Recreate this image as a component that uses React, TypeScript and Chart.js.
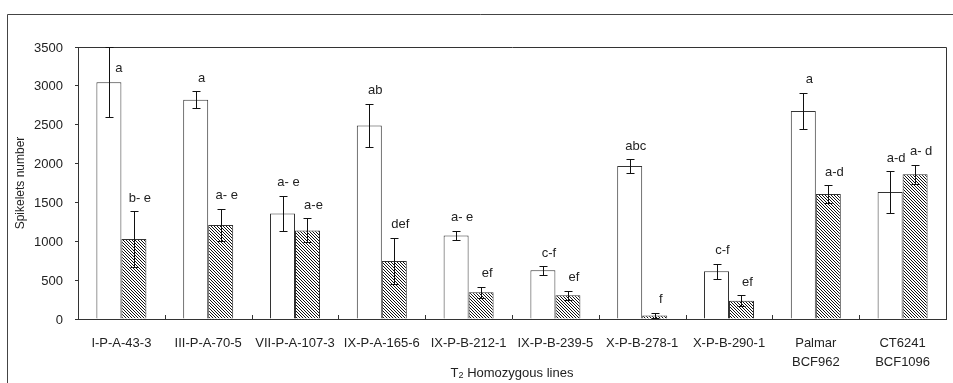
import React, { useEffect, useRef } from "react";
import { Chart, registerables } from "chart.js";

Chart.register(...registerables);

const categories: (string | string[])[] = [
  "I-P-A-43-3",
  "III-P-A-70-5",
  "VII-P-A-107-3",
  "IX-P-A-165-6",
  "IX-P-B-212-1",
  "IX-P-B-239-5",
  "X-P-B-278-1",
  "X-P-B-290-1",
  ["Palmar", "BCF962"],
  ["CT6241", "BCF1096"],
];

const whiteValues = [3048, 2821, 1359, 2491, 1076, 626, 1968, 613, 2675, 1633];
const whiteErrors = [455, 112, 228, 280, 60, 56, 85, 98, 235, 270];
const hatchValues = [1030, 1209, 1140, 746, 343, 304, 45, 236, 1608, 1861];
const hatchErrors = [358, 210, 155, 300, 70, 58, 38, 72, 115, 124];

const whiteLetters = ["a", "a", "a- e", "ab", "a- e", "c-f", "abc", "c-f", "a", "a-d"];
const hatchLetters = ["b- e", "a- e", "a-e", "def", "ef", "ef", "f", "ef", "a-d", "a- d"];

const yMin = 0;
const yMax = 3500;
const yStep = 500;

const yTitle = "Spikelets number";
const xTitleMain = "T";
const xTitleSub = "2";
const xTitleRest = " Homozygous lines";

const FONT = '"Liberation Sans", Arial, sans-serif';
const LINE = "#333333";
const TEXT = "#222";

function makeHatch(): CanvasPattern | string {
  const c = document.createElement("canvas");
  c.width = 3;
  c.height = 3;
  const g = c.getContext("2d");
  if (!g) return "#888";
  g.fillStyle = "#ffffff";
  g.fillRect(0, 0, 3, 3);
  g.fillStyle = "#111111";
  for (let i = 0; i < 3; i++) g.fillRect(i, i, 1, 1);
  const p = g.createPattern(c, "repeat");
  return p || "#888";
}

const decorPlugin = {
  id: "decor",
  beforeDraw(chart: any) {
    const ctx = chart.ctx;
    ctx.save();
    ctx.fillStyle = "#fff";
    ctx.fillRect(0, 0, chart.width, chart.height);
    ctx.restore();
  },
  afterDraw(chart: any) {
    const ctx = chart.ctx;
    const a = chart.chartArea;
    const xs = chart.scales.x;
    const ys = chart.scales.y;
    ctx.save();
    // outer frame (left & top)
    ctx.strokeStyle = "#444";
    ctx.lineWidth = 1;
    ctx.beginPath();
    ctx.moveTo(7.5, chart.height);
    ctx.lineTo(7.5, 14.5);
    ctx.lineTo(chart.width, 14.5);
    ctx.stroke();
    // plot box top & right
    ctx.strokeStyle = LINE;
    ctx.beginPath();
    ctx.moveTo(Math.round(a.left) + 0.5, Math.round(a.top) + 0.5);
    ctx.lineTo(Math.round(a.right) + 0.5, Math.round(a.top) + 0.5);
    ctx.lineTo(Math.round(a.right) + 0.5, Math.round(a.bottom) + 0.5);
    ctx.stroke();
    // inside tick marks at category boundaries
    ctx.beginPath();
    for (let k = 1; k < categories.length; k++) {
      const bx = Math.round((xs.getPixelForTick(k - 1) + xs.getPixelForTick(k)) / 2) + 0.5;
      ctx.moveTo(bx, a.bottom);
      ctx.lineTo(bx, a.bottom - 4);
    }
    ctx.stroke();

    // error bars and letters
    const sets = [
      { vals: whiteValues, errs: whiteErrors, letters: whiteLetters },
      { vals: hatchValues, errs: hatchErrors, letters: hatchLetters },
    ];
    ctx.font = `13px ${FONT}`;
    ctx.textAlign = "center";
    ctx.textBaseline = "middle";
    sets.forEach((s, di) => {
      const meta = chart.getDatasetMeta(di);
      meta.data.forEach((el: any, i: number) => {
        const x = Math.round(el.x) + 0.5;
        const yTop = ys.getPixelForValue(s.vals[i] + s.errs[i]);
        const yBot = ys.getPixelForValue(Math.max(0, s.vals[i] - s.errs[i]));
        ctx.strokeStyle = "#111";
        ctx.lineWidth = 1;
        ctx.beginPath();
        ctx.moveTo(x, Math.round(yTop) + 0.5);
        ctx.lineTo(x, Math.round(yBot) + 0.5);
        ctx.moveTo(x - 4, Math.round(yTop) + 0.5);
        ctx.lineTo(x + 4, Math.round(yTop) + 0.5);
        ctx.moveTo(x - 4, Math.round(yBot) + 0.5);
        ctx.lineTo(x + 4, Math.round(yBot) + 0.5);
        ctx.stroke();
        let lx = el.x + 6;
        let ly = yTop - 13;
        if (ly < a.top + 6) {
          lx = el.x + 10;
          ly = yTop + 22;
        }
        ctx.fillStyle = TEXT;
        ctx.fillText(s.letters[i], lx, ly);
      });
    });

    // y title
    ctx.save();
    ctx.translate(21, (a.top + a.bottom) / 2);
    ctx.rotate(-Math.PI / 2);
    ctx.font = `12px ${FONT}`;
    ctx.fillStyle = TEXT;
    ctx.textAlign = "center";
    ctx.textBaseline = "middle";
    ctx.fillText(yTitle, 0, 0);
    ctx.restore();

    // x title with subscript
    const cx = (a.left + a.right) / 2;
    const ty = 373;
    ctx.font = `13px ${FONT}`;
    const w1 = ctx.measureText(xTitleMain).width;
    const w3 = ctx.measureText(xTitleRest).width;
    ctx.font = `9px ${FONT}`;
    const w2 = ctx.measureText(xTitleSub).width;
    let sx = cx - (w1 + w2 + w3) / 2;
    ctx.fillStyle = TEXT;
    ctx.textAlign = "left";
    ctx.textBaseline = "middle";
    ctx.font = `13px ${FONT}`;
    ctx.fillText(xTitleMain, sx, ty);
    sx += w1;
    ctx.font = `9px ${FONT}`;
    ctx.fillText(xTitleSub, sx, ty + 3);
    sx += w2;
    ctx.font = `13px ${FONT}`;
    ctx.fillText(xTitleRest, sx, ty);
    ctx.restore();
  },
};

export default function App() {
  const ref = useRef<HTMLCanvasElement | null>(null);

  useEffect(() => {
    if (!ref.current) return;
    const hatch = makeHatch();
    const chart = new Chart(ref.current, {
      type: "bar",
      data: {
        labels: categories,
        datasets: [
          {
            data: whiteValues,
            backgroundColor: "#ffffff",
            borderColor: "#333333",
            borderWidth: 1,
            barPercentage: 1,
            categoryPercentage: 0.576,
          },
          {
            data: hatchValues,
            backgroundColor: hatch as any,
            borderColor: "#333333",
            borderWidth: 1,
            barPercentage: 1,
            categoryPercentage: 0.576,
          },
        ],
      },
      options: {
        responsive: false,
        animation: false,
        events: [],
        layout: { padding: { left: 0, right: 7, top: 47, bottom: 0 } },
        plugins: {
          legend: { display: false },
          tooltip: { enabled: false },
          title: { display: false },
        },
        scales: {
          x: {
            offset: true,
            grid: { display: false, drawTicks: false },
            border: { display: true, color: LINE },
            ticks: {
              color: TEXT,
              font: { family: FONT, size: 13, lineHeight: 1.45 },
              padding: 15,
              maxRotation: 0,
              minRotation: 0,
              autoSkip: false,
            },
            afterFit: (s: any) => {
              s.height = 64;
            },
          },
          y: {
            min: yMin,
            max: yMax,
            ticks: {
              stepSize: yStep,
              color: TEXT,
              font: { family: FONT, size: 13 },
              padding: 12,
              labelOffset: 1,
              callback: (v: any) => String(v),
            },
            grid: { drawOnChartArea: false, drawTicks: true, tickLength: 3, color: LINE },
            border: { display: true, color: LINE },
            afterFit: (s: any) => {
              s.width = 78;
            },
          },
        },
      },
      plugins: [decorPlugin],
    });
    return () => chart.destroy();
  }, []);

  return (
    <div style={{ position: "fixed", left: 0, top: 0, width: 953, height: 383 }}>
      <canvas ref={ref} width={953} height={383} style={{ width: 953, height: 383 }} />
    </div>
  );
}
